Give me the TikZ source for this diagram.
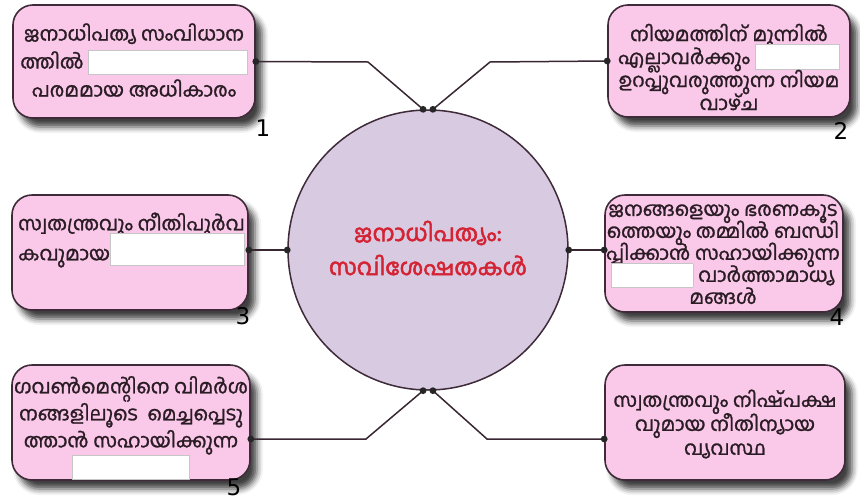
\documentclass[tikz,border=0pt]{standalone}
\usepackage{fontspec}
\newfontfamily\ml[Script=Malayalam,FakeBold=1.3]{Hind Kochi}
\newfontfamily\mlb[Script=Malayalam,FakeBold=2.2]{Hind Kochi}
\newfontfamily\numfont{DejaVu Sans}
\usetikzlibrary{shadows.blur,calc}
\definecolor{boxpink}{RGB}{250,200,232}
\definecolor{boxline}{RGB}{62,42,56}
\definecolor{circfill}{RGB}{216,202,225}
\definecolor{textdark}{RGB}{42,28,36}
\definecolor{titlered}{RGB}{212,36,52}
\newcommand{\blankbox}[2]{\raisebox{-5pt}{\setlength{\fboxsep}{0pt}\setlength{\fboxrule}{0.6pt}\fcolorbox{gray!45}{white}{\rule{0pt}{#2pt}\rule{#1pt}{0pt}}}}
\begin{document}
\lineskiplimit=-100pt
\begin{tikzpicture}[x=1pt,y=-1pt,
  kbox/.style={draw=boxline, line width=1.6pt, fill=boxpink, rounded corners=20pt,
    blur shadow={shadow xshift=7pt, shadow yshift=-9pt, shadow blur radius=6pt, shadow opacity=75}},
  ktext/.style={font=\ml\fontsize{19.5}{#1}\selectfont, text=textdark, inner sep=0pt},
  knum/.style={font=\numfont\fontsize{23}{23}\selectfont, text=black, inner sep=0pt},
  conn/.style={draw=boxline!90!black, line width=1.5pt},
  dotfill/.style={fill=black!85}]
\useasboundingbox (0,0) rectangle (860,501);
% central circle
\node[circle, draw=boxline, line width=1.5pt, fill=circfill, minimum size=280pt, inner sep=0pt] (c) at (428,250) {};
\node[font=\mlb\fontsize{23}{34}\selectfont, text=titlered, align=center, inner sep=0pt] (title) at (428,248) {ജനാധിപത്യം:\\സവിശേഷതകൾ};
% boxes
\node[kbox, minimum width=242pt, minimum height=113pt] (b1) at (134,61.5) {};
\node[kbox, minimum width=242pt, minimum height=112pt] (b2) at (729,61) {};
\node[kbox, minimum width=236pt, minimum height=115pt] (b3) at (130,252.5) {};
\node[kbox, minimum width=238pt, minimum height=117pt] (b4) at (724,253.5) {};
\node[kbox, minimum width=238pt, minimum height=115pt] (b5) at (131,422.5) {};
\node[kbox, minimum width=240pt, minimum height=115pt] (b6) at (725,422.5) {};
% texts
\node[ktext=28, align=center] (t1) at (134,60) {ജനാധിപത്യ സംവിധാന\\ത്തിൽ \blankbox{158}{23}\\പരമമായ അധികാരം};
\node[ktext=23, align=center] (t2) at (729,67) {നിയമത്തിന് മുന്നിൽ\\എല്ലാവർക്കും \blankbox{84}{24}\\ഉറപ്പുവരുത്തുന്ന നിയമ\\വാഴ്ച};
\node[ktext=30, align=left, anchor=west] (t3) at (18,240) {സ്വതന്ത്രവും നീതിപൂർവ\\കവുമായ\blankbox{133}{32}};
\node[ktext=22, align=center] (t4) at (723,254) {ജനങ്ങളെയും ഭരണകൂട\\ത്തെയും തമ്മിൽ ബന്ധി\\പ്പിക്കാൻ സഹായിക്കുന്ന\\\blankbox{81}{23} വാർത്താമാധ്യ\\മങ്ങൾ};
\node[ktext=27, align=center] (t5) at (131,428) {ഗവൺമെന്റിനെ വിമർശ\\നങ്ങളിലൂടെ\ \ മെച്ചപ്പെടു\\ത്താൻ സഹായിക്കുന്ന\\\blankbox{117}{24}};
\node[ktext=24, align=center] (t6) at (725,424) {സ്വതന്ത്രവും നിഷ്പക്ഷ\\വുമായ നീതിന്യായ\\വ്യവസ്ഥ};
% numbers
\node[knum] (n1) at (263,128) {1};
\node[knum] (n2) at (841,131) {2};
\node[knum] (n3) at (243,316) {3};
\node[knum] (n4) at (837,317) {4};
\node[knum] (n5) at (234,487) {5};
% connector points
\coordinate (k1) at (368,62);
\coordinate (k2) at (490,62);
\coordinate (k5) at (366,439);
\coordinate (k6) at (487,439);
\coordinate (e5) at ($(b5.east)+(0,16.5)$);
\coordinate (e6) at ($(b6.west)+(0,16.5)$);
\coordinate (e3) at (c.west -| b3.east);
\coordinate (e4) at (c.east -| b4.west);
% connectors
\draw[conn] (b1.east) -- (k1) -- (c.92);
\draw[conn] (b2.west) -- (k2) -- (c.88);
\draw[conn] (e3) -- (c.west);
\draw[conn] (c.east) -- (e4);
\draw[conn] (e5) -- (k5) -- (c.268);
\draw[conn] (e6) -- (k6) -- (c.272);
% dots
\foreach \p in {b1.east, b2.west, e3, e4, e5, e6, c.92, c.88, c.west, c.east, c.268, c.272}
  \fill[dotfill] (\p) circle (3.4pt);
\end{tikzpicture}
\end{document}
